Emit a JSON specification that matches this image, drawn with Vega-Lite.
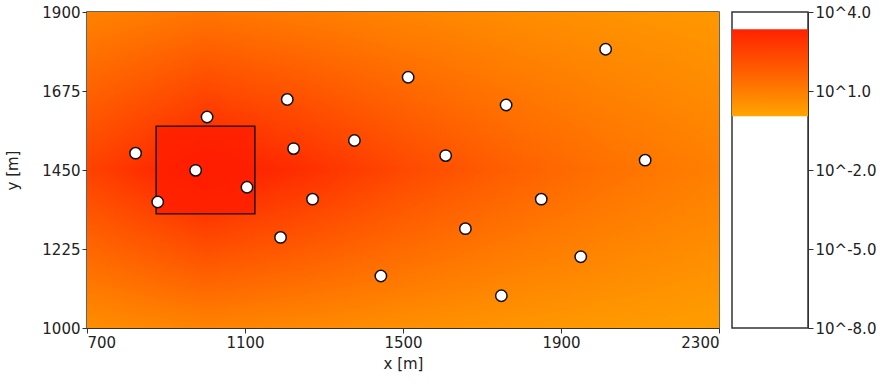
{
  "$schema": "https://vega.github.io/schema/vega-lite/v6.json",
  "background": "white",
  "padding": {"left": 5, "top": 4, "right": 2, "bottom": 5},
  "bounds": "flush",
  "spacing": 13,
  "config": {
    "view": {"stroke": "#333", "strokeWidth": 1.5},
    "axis": {
      "labelFont": "DejaVu Sans", "labelFontSize": 15, "labelColor": "#222",
      "titleFont": "DejaVu Sans", "titleFontSize": 15, "titleFontWeight": "normal", "titleColor": "#222",
      "tickColor": "#333", "domainColor": "#333", "grid": false, "tickSize": 5, "labelPadding": 2
    }
  },
  "datasets": {
    "field": [{"x": 700, "x2": 2300, "y": 1000, "y2": 1900}],
    "source": [{"x": 875, "x2": 1125, "y": 1325, "y2": 1575}],
    "points": [
      {"x": 823, "y": 1498}, {"x": 879, "y": 1359}, {"x": 975, "y": 1449}, {"x": 1004, "y": 1601},
      {"x": 1105, "y": 1401}, {"x": 1207, "y": 1651}, {"x": 1223, "y": 1511}, {"x": 1190, "y": 1258},
      {"x": 1271, "y": 1367}, {"x": 1377, "y": 1534}, {"x": 1444, "y": 1148}, {"x": 1513, "y": 1714},
      {"x": 1608, "y": 1491}, {"x": 1658, "y": 1283}, {"x": 1761, "y": 1635}, {"x": 1749, "y": 1092},
      {"x": 1850, "y": 1367}, {"x": 1950, "y": 1203}, {"x": 2013, "y": 1794}, {"x": 2113, "y": 1478}
    ],
    "colorbar": [{"lo": 1.1, "hi": 2200}]
  },
  "hconcat": [
    {
      "width": 632,
      "height": 316,
      "layer": [
        {
          "data": {"name": "field"},
          "mark": {"type": "rect", "fill": {"gradient": "linear", "x1": 0, "y1": 0, "x2": 1, "y2": 0, "stops": [
            {"offset": 0, "color": "#ff4200"},
            {"offset": 0.1875, "color": "#ff1a00"},
            {"offset": 0.34, "color": "#ff2e00"},
            {"offset": 0.5, "color": "#ff4800"},
            {"offset": 0.66, "color": "#ff5e00"},
            {"offset": 0.82, "color": "#ff7000"},
            {"offset": 1, "color": "#ff8000"}]}},
          "encoding": {
            "x": {"field": "x", "type": "quantitative", "scale": {"domain": [700, 2300], "nice": false},
                  "axis": {"values": [700, 1100, 1500, 1900, 2300], "format": "d", "title": "x [m]", "titlePadding": 6}},
            "x2": {"field": "x2"},
            "y": {"field": "y", "type": "quantitative", "scale": {"domain": [1000, 1900], "nice": false},
                  "axis": {"values": [1000, 1225, 1450, 1675, 1900], "format": "d", "title": "y [m]", "titlePadding": 21}},
            "y2": {"field": "y2"}
          }
        },
        {
          "data": {"name": "field"},
          "mark": {"type": "rect", "fill": {"gradient": "linear", "x1": 0, "y1": 0, "x2": 0, "y2": 1, "stops": [
            {"offset": 0, "color": "rgba(255,164,0,0.66)"},
            {"offset": 0.5, "color": "rgba(255,164,0,0)"},
            {"offset": 1, "color": "rgba(255,168,0,0.74)"}]}},
          "encoding": {
            "x": {"field": "x", "type": "quantitative"},
            "x2": {"field": "x2"},
            "y": {"field": "y", "type": "quantitative"},
            "y2": {"field": "y2"}
          }
        },
        {
          "data": {"name": "source"},
          "mark": {"type": "rect", "fill": "#ff1e00", "fillOpacity": 0.85, "stroke": "#111", "strokeWidth": 1.4},
          "encoding": {
            "x": {"field": "x", "type": "quantitative"},
            "x2": {"field": "x2"},
            "y": {"field": "y", "type": "quantitative"},
            "y2": {"field": "y2"}
          }
        },
        {
          "data": {"name": "points"},
          "mark": {"type": "circle", "size": 130, "fill": "white", "stroke": "#111", "strokeWidth": 1.5, "opacity": 1},
          "encoding": {
            "x": {"field": "x", "type": "quantitative"},
            "y": {"field": "y", "type": "quantitative"}
          }
        }
      ]
    },
    {
      "width": 76,
      "height": 316,
      "data": {"name": "colorbar"},
      "mark": {"type": "rect", "fill": {"gradient": "linear", "x1": 0, "y1": 1, "x2": 0, "y2": 0, "stops": [
        {"offset": 0, "color": "#ffa500"},
        {"offset": 0.5, "color": "#ff6000"},
        {"offset": 1, "color": "#ff2200"}]}},
      "encoding": {
        "y": {"field": "hi", "type": "quantitative", "scale": {"type": "log", "domain": [1e-8, 10000], "nice": false},
              "axis": {"orient": "right", "title": null, "values": [1e-8, 1e-5, 0.01, 10, 10000], "labelOverlap": false,
                       "labelExpr": "'10^' + (datum.value < 1 ? '-' : '') + format(abs(log(datum.value) / LN10), '.1f')"}},
        "y2": {"field": "lo"}
      }
    }
  ]
}
